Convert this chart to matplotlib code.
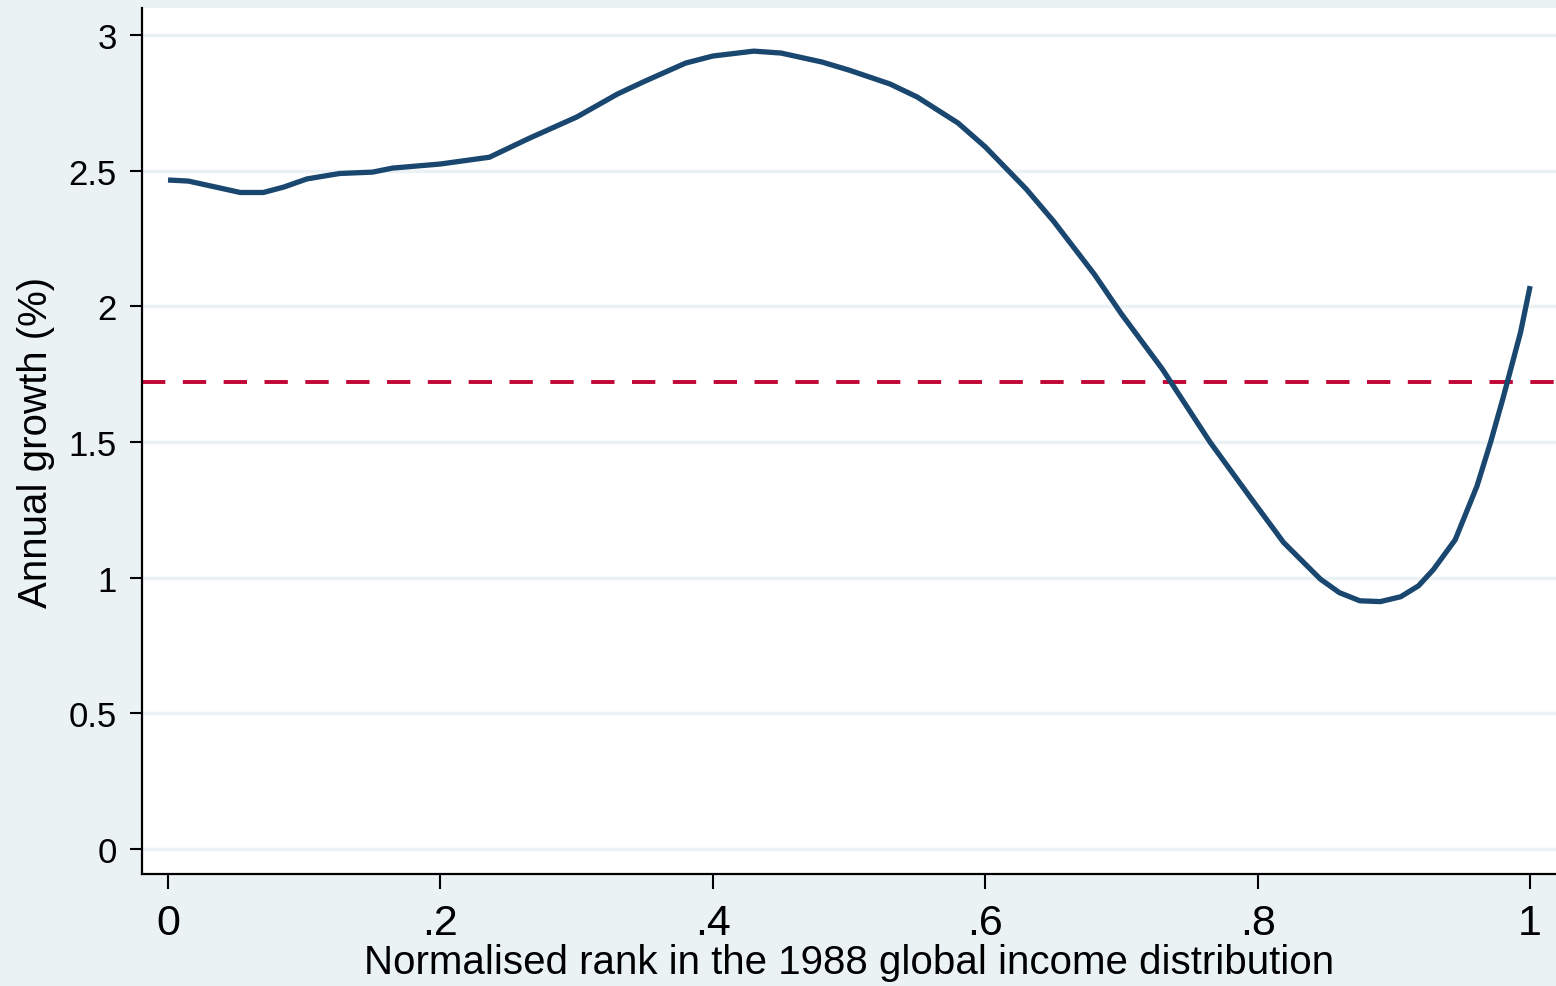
import matplotlib.pyplot as plt
import numpy as np

# growth incidence curve
rank = [0, 0.015, 0.035, 0.053, 0.07, 0.085, 0.102, 0.126, 0.15, 0.165, 0.2,
        0.236, 0.264, 0.3, 0.33, 0.35, 0.38, 0.4, 0.43, 0.45, 0.48, 0.5, 0.53,
        0.55, 0.58, 0.6, 0.63, 0.65, 0.68, 0.7, 0.73, 0.765, 0.794, 0.819,
        0.846, 0.86, 0.875, 0.89, 0.905, 0.918, 0.929, 0.945, 0.961, 0.971,
        0.98, 0.993, 1.0]
growth = [2.466, 2.462, 2.44, 2.42, 2.42, 2.44, 2.47, 2.49, 2.495, 2.51, 2.525,
          2.55, 2.617, 2.698, 2.783, 2.83, 2.897, 2.923, 2.941, 2.934, 2.901,
          2.871, 2.82, 2.772, 2.676, 2.588, 2.433, 2.315, 2.119, 1.972, 1.769,
          1.50, 1.30, 1.13, 0.995, 0.945, 0.915, 0.912, 0.93, 0.97, 1.03, 1.14,
          1.338, 1.50, 1.66, 1.905, 2.075]
mean_growth = 1.721

xticks = [0, 0.2, 0.4, 0.6, 0.8, 1.0]
xtick_labels = ["0", ".2", ".4", ".6", ".8", "1"]
yticks = [0, 0.5, 1, 1.5, 2, 2.5, 3]
ytick_labels = ["0", "0.5", "1", "1.5", "2", "2.5", "3"]

bg = "#EAF2F3"
plt.rcParams['font.family'] = ['Liberation Sans', 'DejaVu Sans']

fig = plt.figure(figsize=(15.56, 9.87), dpi=100, facecolor=bg)
ax = fig.add_axes([142 / 1556, 112 / 987, 1 - 142 / 1556, 866 / 987])
ax.set_facecolor("white")

ax.axhline(mean_growth, color="#C10534", lw=2.8, dashes=(6, 4.5), zorder=2)
ax.plot(rank, growth, color="#1A476F", lw=3.8, zorder=3,
        solid_joinstyle="round", solid_capstyle="butt")

ax.set_xlim(-0.0191, 1.019)
ax.set_ylim(-0.092, 3.10)

ax.set_yticks(yticks)
ax.set_yticklabels(ytick_labels)
ax.set_xticks(xticks)
ax.set_xticklabels(xtick_labels)
ax.grid(axis="y", color=bg, lw=2.5, zorder=0)
ax.set_axisbelow(True)

for s in ["top", "right"]:
    ax.spines[s].set_visible(False)
for s in ["left", "bottom"]:
    ax.spines[s].set_linewidth(1.6)

ax.tick_params(axis="y", length=9, width=1.5, labelsize=25, pad=9)
ax.tick_params(axis="x", length=11, width=1.5, labelsize=31, pad=10)

ax.set_ylabel("Annual growth (%)", fontsize=29, labelpad=10)
ax.set_xlabel("Normalised rank in the 1988 global income distribution",
              fontsize=29, labelpad=0)

fig.savefig("out.png", dpi=100, facecolor=bg)
